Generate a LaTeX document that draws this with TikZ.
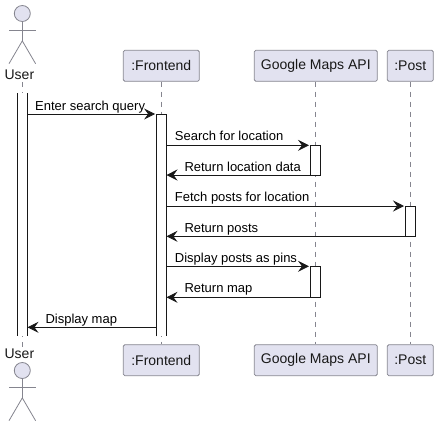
\documentclass[tikz,border=0pt]{standalone}
\usepackage{fontspec}
\setmainfont{Liberation Sans}
\usetikzlibrary{arrows.meta,calc}
\definecolor{partfill}{HTML}{E2E2F0}
\definecolor{partline}{HTML}{85858F}
\definecolor{inkline}{HTML}{181818}
\tikzset{
  part/.style={draw=partline, fill=partfill, line width=0.8pt, rounded corners=1.5pt, minimum height=31pt, inner sep=0pt, font=\fontsize{14}{16}\selectfont, text=inkline},
  who/.style={anchor=base, inner sep=2.3pt, font=\fontsize{14}{16}\selectfont, text=inkline},
  head/.style={circle, draw=partline, fill=partfill, line width=0.8pt, minimum size=16pt, inner sep=0pt},
  limb/.style={draw=partline, line width=0.8pt},
  life/.style={draw=partline, line width=0.7pt, dash pattern=on 5pt off 5pt},
  bar/.style={fill=white, minimum width=10pt, inner sep=0pt, anchor=north},
  barline/.style={draw=inkline, line width=0.8pt},
  msg/.style={anchor=base west, inner sep=0pt, font=\fontsize{13}{15}\selectfont, text=black},
  call/.style={draw=inkline, line width=0.8pt, -{Stealth[length=11pt,width=11pt,inset=4pt]}, shorten >=1pt},
  back/.style={draw=inkline, line width=0.8pt, -{Stealth[length=11pt,width=11pt,inset=4pt]}}
}
\begin{document}
\begin{tikzpicture}[x=1pt, y=-1pt]
  \useasboundingbox (0,0) rectangle (438,426);
  % Nodes
  \node[head](headT) at (22.3,13.5){};
  \node[head](headB) at (22.3,370.5){};
  \node[who](userT) at (19.4,79.7){User};
  \node[who](userB) at (19.4,358.7){User};
  \node[part, minimum width=76pt](frontT) at (161.3,65.8){:Frontend};
  \node[part, minimum width=76pt](frontB) at (161.3,360.2){:Frontend};
  \node[part, minimum width=123pt](mapsT) at (315.8,65.8){Google Maps API};
  \node[part, minimum width=123pt](mapsB) at (315.8,360.2){Google Maps API};
  \node[part, minimum width=46pt](postT) at (410.3,65.8){:Post};
  \node[part, minimum width=46pt](postB) at (410.3,360.2){:Post};
  % Actors
  \foreach \h in {headT,headB}{
    \draw[limb] (\h.south) -- ($(\h.south)+(0,19)$);
    \draw[limb] ($(\h.south)+(-13.3,8)$) -- ($(\h.south)+(13.3,8)$);
    \draw[limb] ($(\h.south)+(-13.3,41.8)$) -- ($(\h.south)+(0,19)$) -- ($(\h.south)+(13.3,41.8)$);
  }
  % Lifelines
  \draw[life] (headT |- userT.south) -- (headB |- userB.north);
  \draw[life] (frontT.south) -- (frontB.north);
  \draw[life] (mapsT.south) -- (mapsB.north);
  \draw[life] (postT.south) -- (postB.north);
  % Bars
  \node[bar, minimum height=243pt](barU) at (22.3,93){};
  \node[bar, minimum height=222pt](barF) at (161.3,114){};
  \node[bar, draw=inkline, line width=0.8pt, minimum height=29.7pt](barM1) at (315.4,145.3){};
  \node[bar, draw=inkline, line width=0.8pt, minimum height=30.3pt](barP) at (410.4,206){};
  \node[bar, draw=inkline, line width=0.8pt, minimum height=31pt](barM2) at (315.4,266.3){};
  \draw[barline] (barU.north west) -- (barU.south west);
  \draw[barline] (barU.north east) -- (barU.south east);
  \draw[barline] (barF.south west) -- (barF.north west) -- (barF.north east) -- (barF.south east);
  % Rows
  \coordinate (r1) at (0,114);
  \coordinate (r2) at (0,145.3);
  \coordinate (r3) at (0,175);
  \coordinate (r4) at (0,206);
  \coordinate (r5) at (0,236.3);
  \coordinate (r6) at (0,266.3);
  \coordinate (r7) at (0,297.3);
  \coordinate (r8) at (0,327.3);
  % Edges
  \draw[call] (barU.east |- r1) -- (barF.west |- r1);
  \draw[call] (barF.east |- r2) -- (barM1.west |- r2);
  \draw[back] (barM1.west |- r3) -- (barF.east |- r3);
  \draw[call] (barF.east |- r4) -- (barP.west |- r4);
  \draw[back] (barP.west |- r5) -- (barF.east |- r5);
  \draw[call] (barF.east |- r6) -- (barM2.west |- r6);
  \draw[back] (barM2.west |- r7) -- (barF.east |- r7);
  \draw[back] (barF.west |- r8) -- (barU.east |- r8);
  % Labels
  \node[msg](m1) at (35,110){Enter search query};
  \node[msg](m2) at (174.7,140){Search for location};
  \node[msg](m3) at (184.3,171){Return location data};
  \node[msg](m4) at (174.7,201){Fetch posts for location};
  \node[msg](m5) at (184.3,232){Return posts};
  \node[msg](m6) at (174.7,262){Display posts as pins};
  \node[msg](m7) at (184.3,292.3){Return map};
  \node[msg](m8) at (45.3,323){Display map};
\end{tikzpicture}
\end{document}
